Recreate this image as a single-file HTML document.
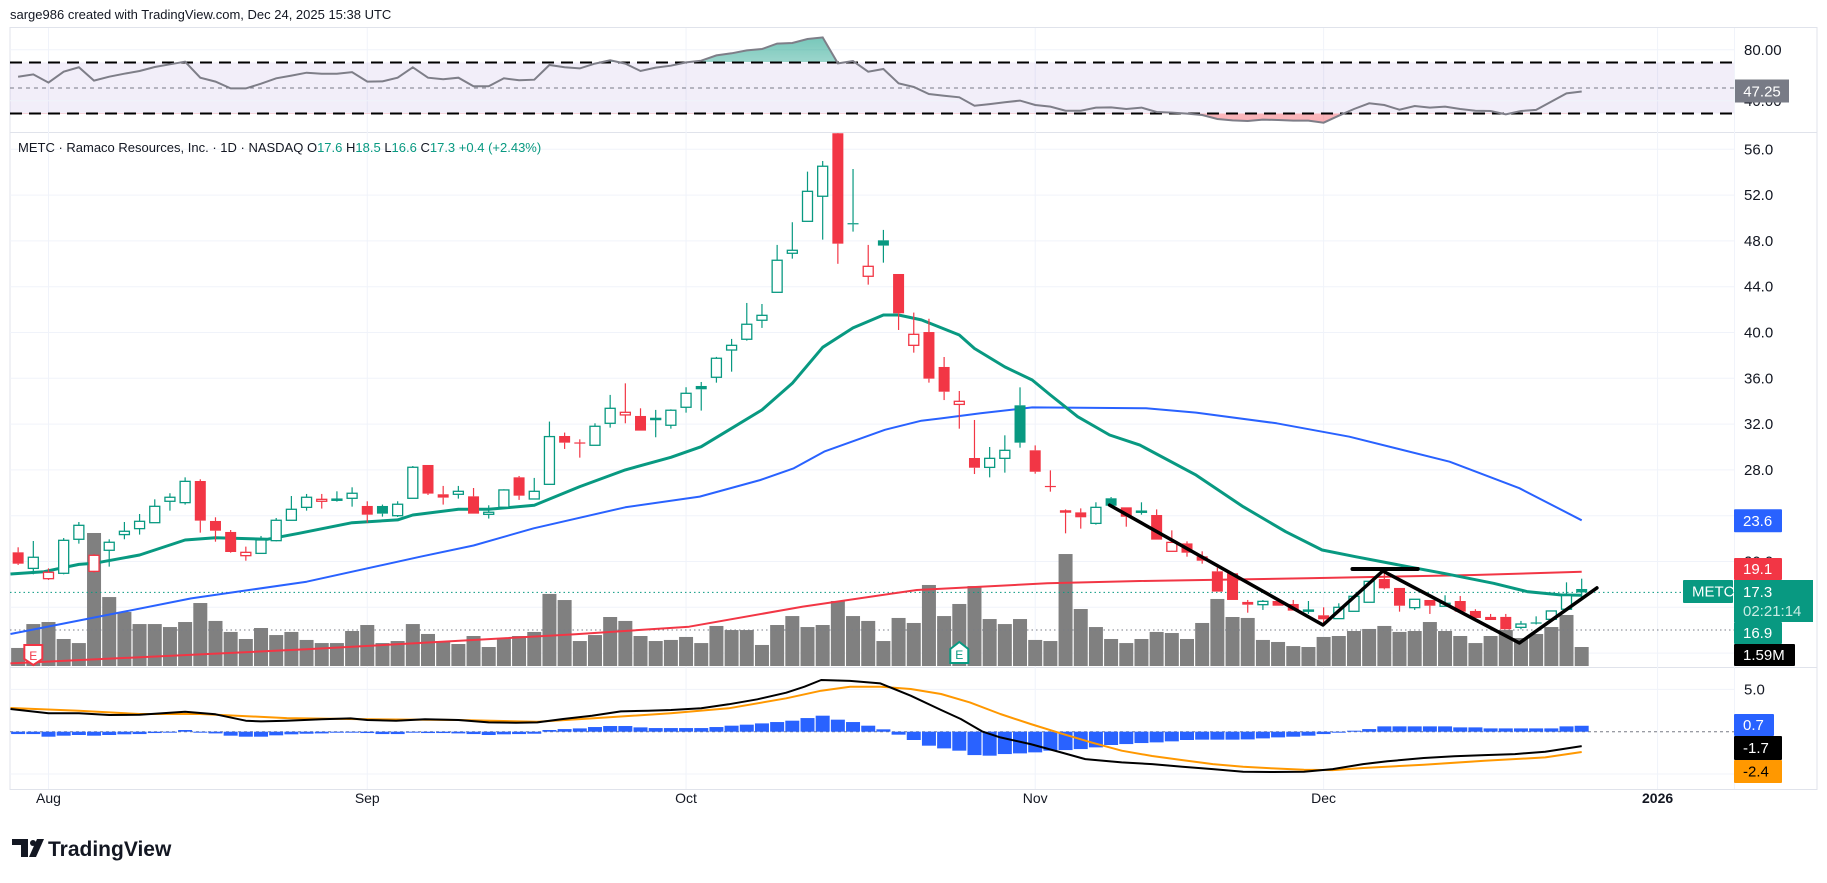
<!DOCTYPE html>
<html><head><meta charset="utf-8">
<style>
html,body{margin:0;padding:0;background:#fff;}
body{width:1827px;height:878px;overflow:hidden;font-family:"Liberation Sans",sans-serif;}
svg text{font-family:"Liberation Sans",sans-serif;}
</style></head>
<body>
<svg id="chart" width="1827" height="878" viewBox="0 0 1827 878" xmlns="http://www.w3.org/2000/svg">
<defs>
<clipPath id="clipMain"><rect x="10" y="133" width="1724" height="534"/></clipPath>
<clipPath id="clipRsi"><rect x="10" y="28" width="1724" height="104"/></clipPath>
<clipPath id="clipRsiTop"><rect x="10" y="28" width="1724" height="34"/></clipPath>
<clipPath id="clipRsiBot"><rect x="10" y="113" width="1724" height="19"/></clipPath>
<clipPath id="clipMacd"><rect x="10" y="669" width="1724" height="120"/></clipPath>
<linearGradient id="gUp" x1="0" y1="0" x2="0" y2="1"><stop offset="0" stop-color="#089981" stop-opacity="0.55"/><stop offset="1" stop-color="#089981" stop-opacity="0.05"/></linearGradient>
<linearGradient id="gDn" x1="0" y1="0" x2="0" y2="1"><stop offset="0" stop-color="#f23645" stop-opacity="0.05"/><stop offset="1" stop-color="#f23645" stop-opacity="0.4"/></linearGradient>
</defs>
<text x="10" y="19" font-size="13" fill="#131722">sarge986 created with TradingView.com, Dec 24, 2025 15:38 UTC</text>
<rect x="10" y="27.5" width="1807" height="762" fill="none" stroke="#e0e3eb" stroke-width="1"/>
<g id="grid"></g>
<g id="rsi"></g>
<g id="main"></g>
<g id="macd"></g>
<g id="axes"></g>
<g>
<path d="M12 839 H28 V857 H21 V845 H12 Z" fill="#131722"/>
<circle cx="33" cy="843" r="3" fill="#131722"/>
<path d="M37 839 H44 L36 857 H29 Z" fill="#131722"/>
<text x="48" y="856" font-size="21" font-weight="bold" fill="#131722">TradingView</text>
</g>
</svg>
<script>
// ---------- DATA ----------
const firstIndex = -2;
const opens  = [20.8,19.4,18.5,18.97,21.94,19.14,20.98,22.35,22.87,23.39,25.26,25.14,27.03,23.54,22.58,20.51,20.71,21.82,23.6,24.73,25.26,25.38,25.52,24.85,24.85,24.0,25.52,28.43,25.87,25.87,25.69,24.12,24.74,27.35,25.46,26.74,30.96,30.4,30.15,32.07,32.8,32.71,32.45,31.9,33.47,35.33,36.09,38.47,39.41,41.07,43.51,46.92,49.71,51.9,57.4,49.55,44.91,48.05,45.11,38.88,40.04,36.99,33.72,29.04,28.22,29.01,33.64,29.71,26.6,24.38,24.29,23.33,25.52,24.73,24.36,24.06,20.89,21.58,20.45,19.14,18.97,16.47,16.23,16.55,16.29,15.7,15.3,15.01,15.65,16.44,18.47,17.69,15.97,16.64,16.09,16.55,15.68,15.16,15.16,14.25,14.68,14.95,15.83,17.6];
const highs  = [21.24,21.79,19.4,22.05,23.45,20.66,21.94,23.45,24.15,25.43,25.96,27.35,27.18,23.86,22.75,21.3,22.23,23.8,25.72,25.9,25.9,26.13,26.48,25.26,24.97,25.26,28.34,28.43,26.6,26.6,26.42,24.91,26.31,27.47,27.3,32.22,31.26,30.67,32.07,34.55,35.56,33.38,33.24,33.29,35.22,35.68,37.87,39.44,42.58,42.49,47.65,49.63,54.05,54.98,57.6,54.28,47.65,48.96,45.11,41.74,41.2,37.86,34.89,32.36,30.0,31.02,35.21,30.14,27.96,24.55,24.64,25.17,25.63,24.73,25.17,24.55,22.72,21.76,20.89,19.46,18.97,16.64,16.64,16.79,16.64,16.55,16.0,16.35,16.96,18.27,19.2,17.69,16.7,16.64,17.05,16.99,15.83,15.42,15.42,14.81,15.21,15.68,18.18,18.5];
const lows   = [19.7,18.88,18.39,18.88,21.56,19.03,19.55,21.94,22.35,23.39,24.44,24.97,22.52,21.73,20.77,20.07,20.71,21.76,23.6,24.44,24.62,25.23,24.79,23.39,23.92,23.89,25.52,25.81,24.97,25.49,24.18,23.75,24.74,25.38,25.46,26.74,29.83,29.07,30.15,31.69,32.07,31.43,30.85,31.6,33.0,33.18,35.62,36.58,39.29,40.4,43.51,46.45,49.71,48.11,46.0,48.81,44.18,46.1,40.22,38.24,35.62,34.1,31.6,27.64,27.35,27.76,29.94,27.67,26.1,22.46,22.87,23.22,24.87,23.04,24.09,21.91,20.89,20.42,19.81,17.37,16.64,15.53,15.77,16.14,15.71,15.42,14.6,15.01,15.65,16.44,17.57,15.62,15.77,15.42,16.09,15.62,15.07,14.89,14.08,14.08,14.5,14.95,15.83,16.6];
const closes = [19.81,20.37,19.06,21.85,23.16,20.54,21.68,22.64,23.51,24.82,25.61,27.0,23.57,22.69,20.83,20.8,21.88,23.6,24.56,25.61,25.43,25.45,25.96,24.09,24.18,25.0,28.23,25.93,25.58,26.13,24.18,24.3,26.25,25.75,26.13,30.91,30.38,30.35,31.81,33.38,33.03,31.43,32.5,33.21,34.69,35.04,37.75,38.88,40.72,41.5,46.31,47.18,52.33,54.52,47.76,49.45,45.78,47.59,41.68,39.84,35.97,34.83,33.99,28.19,29.01,29.71,30.38,27.84,26.55,24.42,23.86,24.73,24.87,23.91,24.4,21.91,21.67,20.77,20.07,17.37,16.64,16.23,16.52,16.14,15.71,15.76,14.95,16.0,16.96,18.27,17.66,16.14,16.7,16.14,16.35,15.62,15.07,14.89,14.08,14.54,14.6,15.68,17.02,17.3];
const volumesM = [1.51,3.51,3.68,2.26,1.92,11.13,5.77,4.52,3.51,3.51,3.26,3.68,5.27,3.77,2.85,2.26,3.18,2.59,2.85,2.18,1.92,1.92,2.93,3.43,1.92,2.09,3.51,2.68,2.09,1.84,2.51,1.59,2.34,2.51,2.85,6.03,5.52,2.09,2.59,4.1,3.77,2.51,2.09,2.18,2.43,1.92,3.35,3.01,3.01,1.76,3.43,4.18,3.26,3.43,5.44,4.18,3.77,2.09,4.02,3.6,6.78,4.18,5.19,6.69,3.93,3.51,3.93,2.18,2.09,9.37,4.77,3.26,2.26,1.92,2.26,2.85,2.76,2.26,3.6,5.61,4.1,4.02,2.18,2.01,1.67,1.59,2.43,2.51,2.93,3.1,3.35,2.85,2.93,3.68,2.93,2.51,1.92,2.51,3.01,2.34,2.68,3.26,4.27,1.59];
const rsiVals = [58.9,60.7,54.2,62.8,66.2,55.8,58.9,61.2,63.3,66.5,68.6,70.6,58.1,55.0,49.7,49.7,53.4,57.6,59.7,62.0,61.2,61.2,62.5,55.0,55.2,58.1,66.2,58.1,56.8,58.1,51.3,51.3,57.6,56.0,56.5,68.0,66.2,65.4,69.1,71.7,69.1,63.3,66.0,67.5,70.1,71.4,75.6,77.2,79.5,80.6,84.8,85.3,88.4,89.7,69.3,71.2,62.8,64.9,53.6,50.8,45.3,44.0,42.7,36.1,37.4,38.8,40.1,36.7,35.4,32.2,32.2,34.6,34.8,33.5,34.6,31.2,30.7,29.9,28.8,25.7,24.6,24.1,25.2,24.9,24.4,24.4,22.8,28.3,33.5,38.0,36.7,33.0,35.9,34.6,35.4,33.5,32.2,32.0,29.3,32.0,32.8,39.3,45.8,47.25];
const histVals = [-0.28,-0.28,-0.59,-0.47,-0.39,-0.47,-0.39,-0.31,-0.28,-0.16,-0.04,0.2,-0.08,-0.2,-0.47,-0.59,-0.59,-0.43,-0.31,-0.24,-0.2,-0.12,-0.08,-0.16,-0.28,-0.28,-0.08,-0.16,-0.16,-0.2,-0.28,-0.39,-0.31,-0.28,-0.24,0.2,0.31,0.39,0.55,0.67,0.67,0.51,0.43,0.43,0.43,0.43,0.55,0.71,0.83,0.98,1.14,1.3,1.61,1.89,1.42,1.14,0.71,0.28,-0.35,-0.98,-1.65,-1.97,-2.24,-2.76,-2.83,-2.64,-2.56,-2.44,-2.24,-2.17,-2.05,-1.85,-1.57,-1.46,-1.34,-1.26,-1.14,-0.98,-0.94,-0.94,-0.94,-0.91,-0.79,-0.67,-0.59,-0.47,-0.28,-0.08,0.12,0.31,0.63,0.63,0.63,0.63,0.63,0.51,0.51,0.39,0.39,0.39,0.39,0.39,0.63,0.7];
const ema20Idx  = [-2.5,-0.3,2,3,6,9,11,14.4,16.5,20,23,24,27,29,32,35,38,41,43,45,47,49,51,53,55,56,57.5,60,61,63,64.8,66,67.8,69.9,71.9,75.6,78.7,81.5,83.9,86.1,89.3,91.9,95.2,97.4,99.6,101];
const ema20Vals = [18.91,19.11,19.75,19.84,20.57,21.88,22.08,21.94,22.46,23.39,23.63,24.06,24.56,24.56,24.91,26.54,28.0,29.1,30.03,31.63,33.24,35.56,38.71,40.4,41.53,41.53,41.1,39.78,38.6,37.0,35.85,34.54,32.65,31.05,30.17,27.55,24.79,22.6,21.0,20.42,19.61,18.97,18.1,17.37,17.08,17.05];
const sma50Idx  = [-2.5,4.4,9.4,17,24.5,28,31.96,38,42.9,46.9,49.1,51.1,55.1,57.5,58.8,61.4,64.8,72.3,75.6,80.9,85.7,92.3,96.9,101];
const sma50Vals = [13.67,15.47,16.78,18.24,20.42,21.4,22.9,24.73,25.67,27.12,28.14,29.6,31.5,32.3,32.5,32.94,33.46,33.38,33.0,32.07,30.9,28.72,26.4,23.6];
const sma200Idx  = [-2.5,17,34.7,42.2,49.7,57.2,65.8,71.9,82.9,93.9,101];
const sma200Vals = [11.1,12.33,13.64,14.31,16.06,17.51,18.1,18.3,18.53,18.82,19.1];
const macdIdx  = [-2.5,0,2,4,6,9,11,13,14,15.7,18,19.9,21,22.9,24.8,27,29,30.8,32.2,33.9,35.8,37.7,39.5,41,43,44.8,46.7,48.6,49.8,50.9,52.8,54.8,56.8,58.8,60.1,61.5,62.7,64.7,66.7,68.3,70.7,72.7,74.7,76.7,78.7,80.7,82.7,84.6,86.6,88.2,90.6,92.6,94.6,96.6,98.6,101];
const macdVals = [2.68,2.17,2.17,1.97,2.0,2.36,2.05,1.3,1.22,1.3,1.46,1.57,1.38,1.3,1.46,1.38,1.1,1.06,1.1,1.5,1.89,2.4,2.48,2.56,2.76,3.23,3.82,4.61,5.31,6.1,6.0,5.7,4.25,2.56,1.5,0.04,-0.67,-1.46,-2.44,-3.23,-3.62,-3.82,-4.13,-4.41,-4.72,-4.76,-4.72,-4.41,-3.82,-3.5,-3.11,-2.91,-2.76,-2.64,-2.36,-1.7];
const signalIdx  = [-2.5,2,6,10,15.7,21,27,32.2,35.8,41,44.8,48.6,50.9,52.8,54.8,56.8,58.8,60.7,62.7,64.7,66.7,68.7,70.7,72.7,74.7,76.7,78.7,80.7,82.7,84.6,86.6,90.6,94.6,98.6,101];
const signalVals = [2.8,2.48,2.09,2.09,1.61,1.46,1.38,1.18,1.57,2.17,2.76,3.94,4.84,5.31,5.31,5.04,4.45,3.46,2.09,0.91,-0.2,-1.26,-2.24,-2.87,-3.35,-3.82,-4.13,-4.33,-4.49,-4.53,-4.29,-3.9,-3.43,-3.03,-2.4];
const priceTicks = [56,52,48,44,40,36,32,28,20];
const priceGrid = [56,52,48,44,40,36,32,28,24,20,16,12];
const monthLabels = ["Aug","Sep","Oct","Nov","Dec","2026"];
const monthIdx = [0,21,42,65,84,106];
const trendIdx = [69.9,83.96,87.9,96.9,102];
const trendPx  = [24.93,14.45,19.17,12.88,17.69];
const flatIdx = [85.9,90.2];
const flatPx = 19.35;
const lastClose = 17.3;

// ---------- SCALES ----------
const xS = i => 48.5 + 15.18 * i;
const yP = p => 378.3 + (36 - p) * 11.45;
const yR = r => 88 - (r - 50) * 1.275;
const yM = v => 731.7 - v * 8.47;
const yV = m => 666 - m * 11.95;

const NS = "http://www.w3.org/2000/svg";
function mk(tag, parent, attrs) {
  const e = document.createElementNS(NS, tag);
  for (const k in attrs) e.setAttribute(k, attrs[k]);
  parent.appendChild(e);
  return e;
}
const grid = document.getElementById('grid');
const rsiG = document.getElementById('rsi');
const mainG = document.getElementById('main');
const macdG = document.getElementById('macd');
const axes = document.getElementById('axes');

// pane separators
let sep = mk('line', grid, {x1:10,x2:1817,y1:132.5,y2:132.5,stroke:'#e0e3eb'});


sep = mk('line', grid, {x1:10,x2:1817,y1:667.5,y2:667.5,stroke:'#e0e3eb'});


sep = mk('line', grid, {x1:10,x2:1817,y1:789.5,y2:789.5,stroke:'#e0e3eb'});


sep = mk('line', grid, {x1:1734.5,x2:1734.5,y1:28,y2:789,stroke:'#f0f3fa'});



// vertical month grid
monthIdx.forEach((mi, k) => {
  const gl = mk('line', grid, {x1:xS(mi),x2:xS(mi),y1:28,y2:789,stroke:'#f0f3fa','stroke-width':1});
  
  
  const t = mk('text', axes, {x:xS(mi),y:803,'font-size':14,'text-anchor':'middle',fill:'#131722','font-weight':k===5?'bold':'normal'});
  t.textContent = monthLabels[k];
  
  
});
// horizontal price grid
priceGrid.forEach(p => {
  const gl = mk('line', grid, {x1:10,x2:1734,y1:yP(p),y2:yP(p),stroke:'#f0f3fa'});
  
  
});
priceTicks.forEach(p => {
  const t = mk('text', axes, {x:1744,y:yP(p)+5,'font-size':15,fill:'#131722'});
  t.textContent = p.toFixed(1);
  
  
});

// ---------- RSI ----------
const band = mk('rect', rsiG, {x:10,y:yR(70),width:1724,height:yR(30)-yR(70),fill:'rgba(126,87,194,0.1)'});


[80,40].forEach(r => {
  const gl = mk('line', rsiG, {x1:10,x2:1734,y1:yR(r),y2:yR(r),stroke:'#f0f3fa'});
  
  
});
const rsiPts = rsiVals.map((r, k) => [xS(firstIndex + k), yR(r)]);
const rsiStr = rsiPts.map(p => p[0].toFixed(1) + ',' + p[1].toFixed(1)).join(' ');
const x0r = rsiPts[0][0], x1r = rsiPts[rsiPts.length - 1][0];
const upArea = mk('polygon', rsiG, {points: rsiStr + ` ${x1r},${yR(70)} ${x0r},${yR(70)}`, fill:'url(#gUp)', 'clip-path':'url(#clipRsiTop)'});


const dnArea = mk('polygon', rsiG, {points: rsiStr + ` ${x1r},${yR(30)} ${x0r},${yR(30)}`, fill:'url(#gDn)', 'clip-path':'url(#clipRsiBot)'});


[[70,'#000',2,'12 7'],[30,'#000',2,'12 7'],[50,'#787b86',1,'4 4']].forEach(d => {
  const l = mk('line', rsiG, {x1:10,x2:1734,y1:yR(d[0]),y2:yR(d[0]),stroke:d[1],'stroke-width':d[2],'stroke-dasharray':d[3]});
  
  
});
const rsiLine = mk('polyline', rsiG, {points:rsiStr, fill:'none', stroke:'#7e7e88', 'stroke-width':2, 'clip-path':'url(#clipRsi)'});


let t = mk('text', axes, {x:1744,y:yR(80)+5,'font-size':15,fill:'#131722'});
t.textContent = '80.00';


t = mk('text', axes, {x:1744,y:yR(40)+5,'font-size':15,fill:'#131722'});
t.textContent = '40.00';


let bx = mk('rect', axes, {x:1735,y:yR(rsiVals[rsiVals.length-1])-12,width:54,height:23,fill:'#787b86'});


t = mk('text', axes, {x:1762,y:yR(rsiVals[rsiVals.length-1])+5,'font-size':15,fill:'#fff','text-anchor':'middle'});
t.textContent = rsiVals[rsiVals.length-1].toFixed(2);



// ---------- MAIN PANE ----------
const clipMain = mk('g', mainG, {'clip-path':'url(#clipMain)'});


// volume
volumesM.forEach((m, k) => {
  const x = xS(firstIndex + k);
  const b = mk('rect', clipMain, {x:x-7, y:yV(m), width:14, height:666-yV(m), fill:'#808080'});
  
  
});
// dotted lines
let dl = mk('line', clipMain, {x1:10,x2:1734,y1:yP(lastClose),y2:yP(lastClose),stroke:'#089981','stroke-width':1,'stroke-dasharray':'1.5 3'});


dl = mk('line', clipMain, {x1:10,x2:1734,y1:630,y2:630,stroke:'#787b86','stroke-width':1,'stroke-dasharray':'1.5 3'});


// moving averages
function lineFrom(idx, vals, color, w, name) {
  const pts = idx.map((ii, k) => xS(ii).toFixed(1) + ',' + yP(vals[k]).toFixed(1)).join(' ');
  const pl = mk('polyline', clipMain, {points:pts, fill:'none', stroke:color, 'stroke-width':w, 'stroke-linejoin':'round'});
  
  
}
lineFrom(sma200Idx, sma200Vals, '#f23645', 2, 'sma200-line');
lineFrom(sma50Idx, sma50Vals, '#2962ff', 2, 'sma50-line');
lineFrom(ema20Idx, ema20Vals, '#089981', 3, 'ema20-line');
// candles
closes.forEach((c, k) => {
  const i = firstIndex + k, x = xS(i);
  const o = opens[k], h = highs[k], l = lows[k];
  const prev = k > 0 ? closes[k-1] : o;
  const col = c >= prev ? '#089981' : '#f23645';
  const hollow = c > o;
  const top = yP(Math.max(o, c)), bot = yP(Math.min(o, c));
  const g = mk('g', clipMain, {});
  
  
  const wk = mk('line', g, {x1:x, x2:x, y1:yP(h), y2:top, stroke:col, 'stroke-width':1.2});
  
  
  const wk2 = mk('line', g, {x1:x, x2:x, y1:bot, y2:yP(l), stroke:col, 'stroke-width':1.2});
  
  
  const bh = Math.max(bot - top, 1.2);
  const body = hollow
    ? mk('rect', g, {x:x-5, y:top, width:10, height:bh, fill:'#fff', stroke:col, 'stroke-width':1.3})
    : mk('rect', g, {x:x-5.5, y:top, width:11, height:bh, fill:col});
  
  
});
// trend drawings
const tPts = trendIdx.map((ii, k) => xS(ii).toFixed(1) + ',' + yP(trendPx[k]).toFixed(1)).join(' ');
const tl = mk('polyline', clipMain, {points:tPts, fill:'none', stroke:'#000', 'stroke-width':3.5, 'stroke-linecap':'round','stroke-linejoin':'round'});


const fl = mk('line', clipMain, {x1:xS(flatIdx[0]), x2:xS(flatIdx[1]), y1:yP(flatPx), y2:yP(flatPx), stroke:'#000','stroke-width':4,'stroke-linecap':'round'});


// earnings markers
let em = mk('path', mainG, {d:`M${xS(-1)-9} 645 H${xS(-1)+9} V659 L${xS(-1)} 665 L${xS(-1)-9} 659 Z`, fill:'#fff', stroke:'#f23645','stroke-width':2});


t = mk('text', mainG, {x:xS(-1), y:660, 'font-size':12, fill:'#f23645','text-anchor':'middle'});
t.textContent = 'E';


em = mk('path', mainG, {d:`M${xS(60)-9} 649 L${xS(60)} 642 L${xS(60)+9} 649 V663 H${xS(60)-9} Z`, fill:'#fff', stroke:'#089981','stroke-width':2});


t = mk('text', mainG, {x:xS(60), y:659, 'font-size':12, fill:'#089981','text-anchor':'middle'});
t.textContent = 'E';


// legend
t = mk('text', mainG, {x:18, y:152, 'font-size':13, fill:'#131722'});


t.innerHTML = 'METC · Ramaco Resources, Inc. · 1D · NASDAQ  O<tspan fill="#089981">17.6</tspan>  H<tspan fill="#089981">18.5</tspan>  L<tspan fill="#089981">16.6</tspan>  C<tspan fill="#089981">17.3</tspan>  <tspan fill="#089981">+0.4 (+2.43%)</tspan>';

// price labels
function badge(x, y, w, h, bg, txt, col, name, size) {
  const r = mk('rect', axes, {x:x, y:y, width:w, height:h, fill:bg, rx:1});
  
  
  const tt = mk('text', axes, {x:x+9, y:y+h/2+5, 'font-size':size||15, fill:col});
  tt.textContent = txt;
  
  
  return tt;
}
badge(1734, yP(sma50Vals[sma50Vals.length-1])-11, 48, 23, '#2962ff', sma50Vals[sma50Vals.length-1].toFixed(1), '#fff', 'sma50-price-label');
badge(1734, 558, 48, 22, '#f23645', sma200Vals[sma200Vals.length-1].toFixed(1), '#fff', 'sma200-price-label');
badge(1683, 580, 50, 23, '#089981', 'METC', '#fff', 'symbol-price-tag');
const lastBg = mk('rect', axes, {x:1734, y:580, width:79, height:42, fill:'#089981'});


t = mk('text', axes, {x:1743, y:597, 'font-size':15, fill:'#fff'});
t.textContent = lastClose.toFixed(1);


t = mk('text', axes, {x:1743, y:616, 'font-size':15, fill:'#c9ece4'});
t.textContent = '02:21:14';


badge(1734, 622, 48, 22, '#089981', '16.9', '#fff', 'ema20-price-label');
badge(1734, 644, 61, 22, '#000', volumesM[volumesM.length-1].toFixed(2) + 'M', '#fff', 'volume-label');

// ---------- MACD ----------
const mc = mk('g', macdG, {'clip-path':'url(#clipMacd)'});


const zl = mk('line', mc, {x1:10,x2:1734,y1:yM(0),y2:yM(0),stroke:'#787b86','stroke-dasharray':'3 3'});


[5,-5].forEach(v => {
  const gl = mk('line', mc, {x1:10,x2:1734,y1:yM(v),y2:yM(v),stroke:'#f0f3fa'});
  
  
});
histVals.forEach((v, k) => {
  const x = xS(firstIndex + k);
  const y0 = yM(0), y1 = yM(v);
  const b = mk('rect', mc, {x:x-7, y:Math.min(y0,y1), width:14, height:Math.max(Math.abs(y1-y0),1), fill:'#2962ff'});
  
  
});
function mline(idx, vals, color, name) {
  const pts = idx.map((ii, k) => xS(ii).toFixed(1) + ',' + yM(vals[k]).toFixed(1)).join(' ');
  const pl = mk('polyline', mc, {points:pts, fill:'none', stroke:color, 'stroke-width':2, 'stroke-linejoin':'round'});
  
  
}
mline(signalIdx, signalVals, '#ff9800', 'macd-signal-line');
mline(macdIdx, macdVals, '#000', 'macd-line');
t = mk('text', axes, {x:1744, y:yM(5)+5, 'font-size':15, fill:'#131722'});
t.textContent = '5.0';


badge(1734, 714, 40, 22, '#2962ff', histVals[histVals.length-1].toFixed(1), '#fff', 'macd-hist-label');
badge(1734, 736, 48, 24, '#000', macdVals[macdVals.length-1].toFixed(1), '#fff', 'macd-value-label');
badge(1734, 760, 48, 23, '#ff9800', signalVals[signalVals.length-1].toFixed(1), '#000', 'macd-signal-label');
</script>
</body></html>
